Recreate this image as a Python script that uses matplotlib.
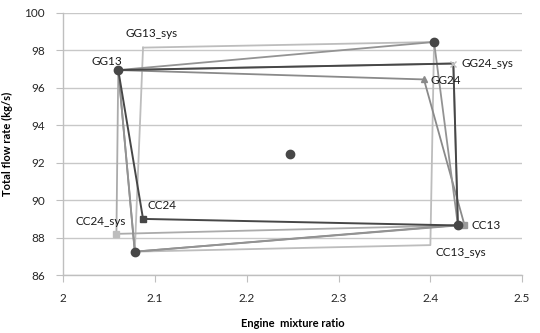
import matplotlib
matplotlib.use("Agg")
import matplotlib.pyplot as plt

plt.rcParams['font.family'] = ['Lato', 'DejaVu Sans']

# corner points (engine mixture ratio, total flow rate kg/s)
gg13 = (2.060, 96.95)
gg13_sys = (2.087, 98.15)
gg24 = (2.393, 96.45)
gg24_sys = (2.425, 97.30)
cc13 = (2.430, 88.65)
cc13b = (2.437, 88.70)
cc13_sys = (2.400, 87.60)
cc24 = (2.087, 89.00)
cc24_sys = (2.058, 88.20)
top_r = (2.404, 98.45)
bot_l = (2.078, 87.25)
center = (2.247, 92.45)

# each series is a closed loop through four corners
series_grey = [gg13, top_r, cc13, bot_l, gg13]
series_dark = [gg13, gg24_sys, cc13, cc24, gg13]
series_mid = [gg13, gg24, cc13b, bot_l, gg13]
series_sys = [gg13_sys, top_r, cc13_sys, bot_l, gg13_sys]
series_sys2 = [gg13, gg24_sys, cc13, cc24_sys, gg13]

labels = [
    ("GG13_sys", gg13_sys, (6, 10), 'center'),
    ("GG13", gg13, (3, 6), 'right'),
    ("GG24_sys", gg24_sys, (6, 0), 'left'),
    ("GG24", gg24, (5, -1), 'left'),
    ("CC13", cc13, (10, 0), 'left'),
    ("CC13_sys", cc13_sys, (4, -5), 'left'),
    ("CC24", cc24, (3, 10), 'left'),
    ("CC24_sys", cc24_sys, (7, 9), 'right'),
]


def xs(pts):
    return [p[0] for p in pts]


def ys(pts):
    return [p[1] for p in pts]


fig = plt.figure(figsize=(5.4, 3.33), dpi=100)
ax = fig.add_axes([0.117, 0.174, 0.85, 0.787])

ax.plot(xs(series_sys), ys(series_sys), color='#bdbdbd', lw=1.3, zorder=2)
ax.plot(xs(series_sys2), ys(series_sys2), color='#ababab', lw=1.3, zorder=2)
ax.plot(xs(series_mid), ys(series_mid), color='#8a8a8a', lw=1.3, zorder=3)
ax.plot(xs(series_grey), ys(series_grey), color='#939393', lw=1.3, zorder=3)
ax.plot(xs(series_dark), ys(series_dark), color='#474747', lw=1.4, zorder=4)

# markers
ax.plot([gg13[0], top_r[0], cc13[0], bot_l[0], center[0]],
        [gg13[1], top_r[1], cc13[1], bot_l[1], center[1]],
        ls='none', marker='o', ms=6, color='#474747', zorder=6)
ax.plot([cc24[0]], [cc24[1]], ls='none', marker='s', ms=4.5, color='#474747', zorder=6)
ax.plot([cc24_sys[0]], [cc24_sys[1]], ls='none', marker='s', ms=4.5, color='#bdbdbd', zorder=5)
ax.plot([cc13b[0]], [cc13b[1]], ls='none', marker='s', ms=4.5, color='#9a9a9a', zorder=5)
ax.plot([gg24[0]], [gg24[1]], ls='none', marker='^', ms=4, color='#8a8a8a', zorder=5)
ax.plot([gg24_sys[0]], [gg24_sys[1]], ls='none', marker='x', ms=4.5, mew=1, color='#bdbdbd', zorder=5)

for text, pt, off, ha in labels:
    ax.annotate(text, pt, xytext=off, textcoords='offset points',
                ha=ha, va='center', fontsize=8.5, color='#1a1a1a', zorder=7)

ax.set_xlim(2, 2.5)
ax.set_ylim(86, 100)
ax.set_xticks([2, 2.1, 2.2, 2.3, 2.4, 2.5])
ax.set_xticklabels(['2', '2.1', '2.2', '2.3', '2.4', '2.5'])
ax.set_yticks(range(86, 101, 2))
ax.yaxis.grid(True, color='#c8c8c8', lw=1)
ax.set_axisbelow(True)
for s in ['top', 'right']:
    ax.spines[s].set_visible(False)
for s in ['left', 'bottom']:
    ax.spines[s].set_color('#bfbfbf')
    ax.spines[s].set_linewidth(1)
ax.tick_params(axis='both', direction='out', length=5, color='#bfbfbf',
               labelsize=8.5, labelcolor='#262626', pad=8)

ax.set_xlabel('Engine  mixture ratio', fontsize=8, fontweight='bold', labelpad=10)
ax.set_ylabel('Total flow rate (kg/s)', fontsize=8, fontweight='bold', labelpad=8)

fig.savefig('out.png', dpi=100)
